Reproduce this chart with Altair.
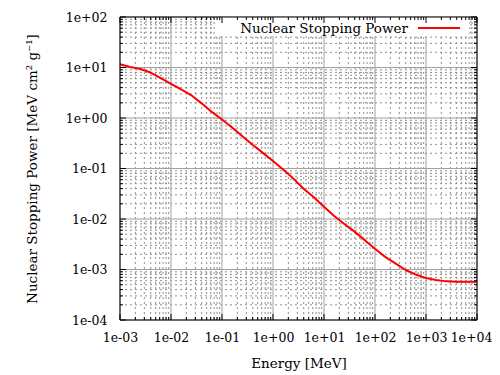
import altair as alt
import pandas as pd

# ---- data ----
energy = [0.001, 0.00158, 0.00251, 0.00398, 0.00631,
          0.01, 0.0158, 0.0251, 0.0398, 0.0631,
          0.1, 0.158, 0.251, 0.398, 0.631,
          1, 1.58, 2.51, 3.98, 6.31,
          10, 15.8, 25.1, 39.8, 63.1,
          100, 158, 251, 398, 631,
          1000, 1580, 2510, 3980, 6310, 10000]
stopping = [11.6, 10.2, 9.33, 7.94, 6.17,
            4.73, 3.67, 2.82, 1.95, 1.32,
            0.933, 0.646, 0.437, 0.295, 0.204,
            0.141, 0.0955, 0.0631, 0.0398, 0.0269,
            0.0174, 0.0115, 0.00794, 0.00562, 0.00380,
            0.00257, 0.00178, 0.00132, 0.000977, 0.000794,
            0.000676, 0.000617, 0.000582, 0.000569, 0.000569, 0.000569]

x_major = [1e-3, 1e-2, 1e-1, 1e0, 1e1, 1e2, 1e3, 1e4]
y_major = [1e-4, 1e-3, 1e-2, 1e-1, 1e0, 1e1, 1e2]
x_minor = [m * d for d in x_major[:-1] for m in range(2, 10)]
y_minor = [m * d for d in y_major[:-1] for m in range(2, 10)]

series_name = "Nuclear Stopping Power"
x_title = "Energy [MeV]"
y_title = "Nuclear Stopping Power [MeV cm² g⁻¹]"

W, H = 357, 303
FONT = "DejaVu Serif"
GRID = "#a0a0a0"
TICK_FS = 12.5
TITLE_FS = 13.5

xs = alt.Scale(type="log", domain=[1e-3, 1e4], nice=False)
ys = alt.Scale(type="log", domain=[1e-4, 1e2], nice=False)

label_expr = "'1e' + (datum.value < 1 ? '-' : '+') + '0' + abs(round(log(datum.value) / LN10))"

AX = alt.Axis(values=x_major, labelExpr=label_expr, grid=False, ticks=False, tickSize=0,
              domain=False, labelPadding=11, titlePadding=13, labelFlush=False,
              labelOffset={"condition": {"test": "datum.value > 5000", "value": -6}, "value": 0},
              labelFont=FONT, titleFont=FONT, labelFontSize=TICK_FS, titleFontSize=TITLE_FS,
              titleFontWeight="normal", labelColor="black", titleColor="black")
AY = alt.Axis(values=y_major, labelExpr=label_expr, grid=False, ticks=False, tickSize=0,
              domain=False, labelPadding=13, titlePadding=26, labelFlush=False,
              labelFont=FONT, titleFont=FONT, labelFontSize=TICK_FS, titleFontSize=TITLE_FS,
              titleFontWeight="normal", labelColor="black", titleColor="black")

df = pd.DataFrame({"E": energy, "S": stopping})
one = pd.DataFrame({"a": [0]})


def vrules(vals, dash, y0, y1, color=GRID):
    kw = dict(color=color, strokeWidth=1)
    if dash:
        kw["strokeDash"] = dash
    return alt.Chart(pd.DataFrame({"v": vals})).mark_rule(**kw).encode(
        x=alt.X("v:Q", scale=xs, axis=AX, title=x_title), y=alt.value(y0), y2=alt.value(y1))


def hrules(vals, dash, x0, x1, color=GRID):
    kw = dict(color=color, strokeWidth=1)
    if dash:
        kw["strokeDash"] = dash
    return alt.Chart(pd.DataFrame({"v": vals})).mark_rule(**kw).encode(
        y=alt.Y("v:Q", scale=ys, axis=AY, title=y_title), x=alt.value(x0), x2=alt.value(x1))


layers = [
    vrules(x_minor, [2, 3], 0, H, "#909090"),
    hrules(y_minor, [2, 3], 0, W, "#909090"),
    vrules(x_major, None, 0, H),
    hrules(y_major, None, 0, W),
    # legend background
    alt.Chart(one).mark_rect(color="white").encode(
        x=alt.value(95), x2=alt.value(349), y=alt.value(0), y2=alt.value(19)),
    # data line
    alt.Chart(df).mark_line(color="#ff0000", strokeWidth=2, strokeJoin="round").encode(
        x=alt.X("E:Q", scale=xs, axis=AX, title=x_title),
        y=alt.Y("S:Q", scale=ys, axis=AY, title=y_title),
        order="E:Q"),
    # inward ticks on all four sides
    vrules(x_major, None, H - 6, H, "black"),
    vrules(x_major, None, 0, 6, "black"),
    vrules(x_minor, None, H - 3, H, "black"),
    vrules(x_minor, None, 0, 3, "black"),
    hrules(y_major, None, 0, 6, "black"),
    hrules(y_major, None, W - 6, W, "black"),
    hrules(y_minor, None, 0, 3, "black"),
    hrules(y_minor, None, W - 3, W, "black"),
    # border
    alt.Chart(one).mark_rect(filled=False, stroke="black", strokeWidth=1).encode(
        x=alt.value(0), x2=alt.value(W), y=alt.value(0), y2=alt.value(H)),
    # legend entries
    alt.Chart(pd.DataFrame({"t": [series_name]})).mark_text(
        align="right", baseline="alphabetic", font=FONT, fontSize=TITLE_FS, color="black").encode(
        text="t:N", x=alt.value(288), y=alt.value(16)),
    alt.Chart(one).mark_rule(color="#ff0000", strokeWidth=2).encode(
        x=alt.value(298), x2=alt.value(340), y=alt.value(11)),
]

chart = alt.layer(*layers).properties(
    width=W, height=H,
    autosize=alt.AutoSizeParams(type="none"),
    padding={"left": 112, "top": 9, "right": 15, "bottom": 55},
).configure_view(stroke="transparent")

chart.save("out.html", embed_options={"renderer": "svg", "actions": False})
